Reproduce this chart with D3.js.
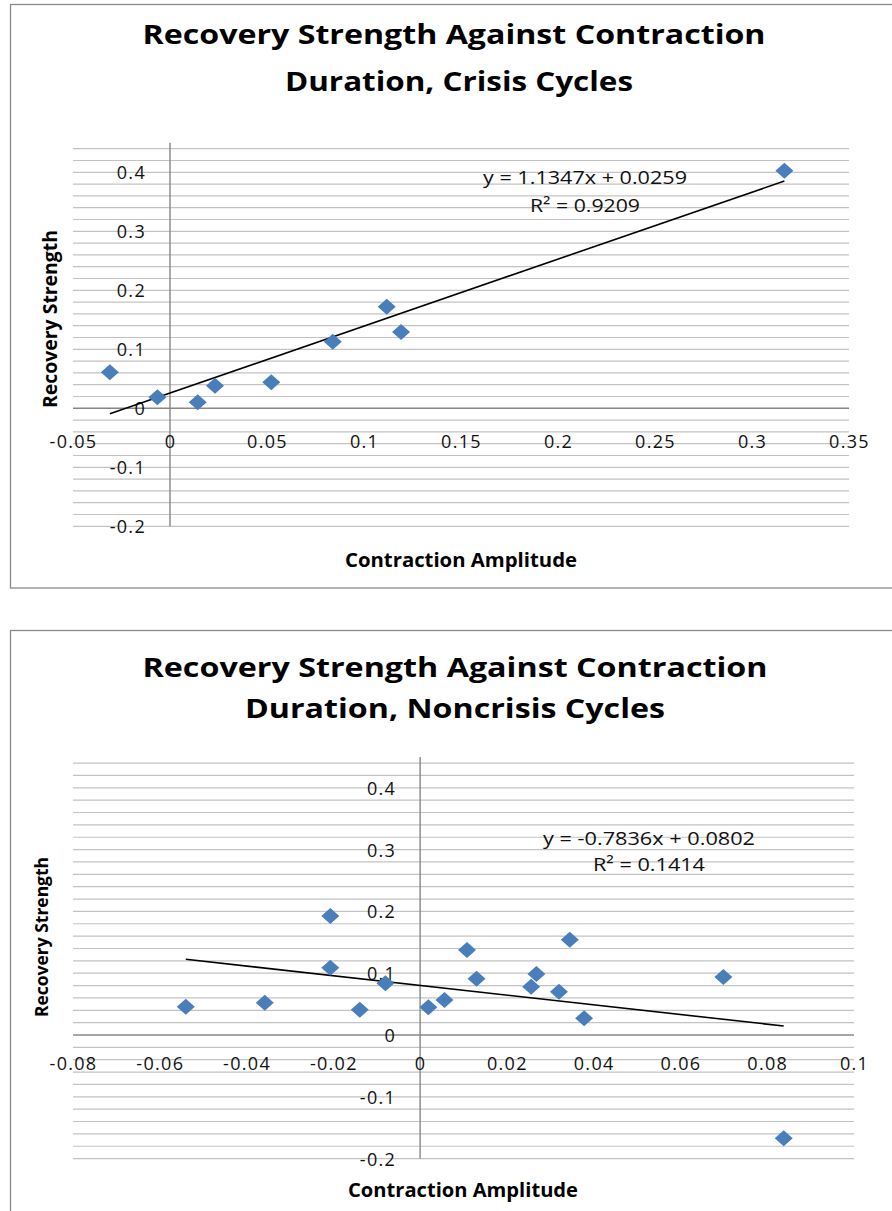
<!DOCTYPE html>
<html><head><meta charset="utf-8">
<script src="https://cdn.jsdelivr.net/npm/d3@7"></script>
<style>body{margin:0;background:#fff} svg{display:block}</style>
</head><body><svg id="c" width="892" height="1211"></svg>
<script>
// ---- data ----
const crisisX = [-0.031, -0.0065, 0.0143, 0.0232, 0.0522, 0.0839, 0.1117, 0.1191, 0.3167];
const crisisY = [0.061, 0.0186, 0.0102, 0.0383, 0.044, 0.1129, 0.1722, 0.1293, 0.4027];
const noncrisisX = [-0.054, -0.0358, -0.0207, -0.0207, -0.0139, -0.008, 0.0019, 0.0056, 0.0108, 0.013, 0.0256, 0.0268, 0.032, 0.0345, 0.0378, 0.0699, 0.0838];
const noncrisisY = [0.0458, 0.0523, 0.1926, 0.1089, 0.041, 0.0836, 0.0448, 0.0566, 0.1375, 0.0911, 0.0782, 0.0987, 0.0701, 0.1542, 0.027, 0.0939, -0.1672];
const titleLines = [["Recovery Strength Against Contraction", "Duration, Crisis Cycles"],
                    ["Recovery Strength Against Contraction", "Duration, Noncrisis Cycles"]];
const trendSlope = [1.1347, -0.7836];
const trendIntercept = [0.0259, 0.0802];
const rSquared = [0.9209, 0.1414];
const xTicksCrisis = [-0.05, 0, 0.05, 0.1, 0.15, 0.2, 0.25, 0.3, 0.35];
const xTicksNoncrisis = [-0.08, -0.06, -0.04, -0.02, 0, 0.02, 0.04, 0.06, 0.08, 0.1];
const yTicks = [-0.2, -0.1, 0, 0.1, 0.2, 0.3, 0.4];
const xAxisTitle = "Contraction Amplitude";
const yAxisTitle = "Recovery Strength";

// ---- layout (positions/styles only) ----
const layouts = [
  { box:[10.5,4.5,900,583.5], xDom:[-0.05,0.35], xRange:[73,849], yDom:[-0.2,0.45], yRange:[526.3,142.8],
    t1:{y:43.5,x:454,w:623}, t2:{y:90.7,x:459,w:348}, xTickPad:26.5,
    xt:{x:461,y:566.7,w:232}, yt:{x:57,y:319,w:178,fs:20},
    eq:{x:585,y1:184,y2:211.7,w1:204,w2:110} },
  { box:[10.5,630.5,900,700], xDom:[-0.08,0.1], xRange:[73,854], yDom:[-0.2,0.45], yRange:[1158.6,756.9],
    t1:{y:676.7,x:455,w:625}, t2:{y:718.3,x:455,w:420}, xTickPad:22,
    xt:{x:463,y:1196.7,w:230}, yt:{x:48,y:937,w:160,fs:18},
    eq:{x:649,y1:845,y2:870.7,w1:212,w2:112} }
];

const series = [
  {xs: crisisX, ys: crisisY, ticks: xTicksCrisis},
  {xs: noncrisisX, ys: noncrisisY, ticks: xTicksNoncrisis}
];

const svg = d3.select("#c");
svg.append("rect").attr("width",892).attr("height",1211).attr("fill","#fff");
const FONT = "'Open Sans', 'DejaVu Sans', sans-serif";
const fmt = d => d === 0 ? "0" : String(d);

const wideDiamond = { draw(ctx, size) { const w = 9, h = 8; ctx.moveTo(0,-h); ctx.lineTo(w,0); ctx.lineTo(0,h); ctx.lineTo(-w,0); ctx.closePath(); } };

series.forEach((s, i) => {
  const L = layouts[i];
  const g = svg.append("g");
  g.append("rect").attr("x",L.box[0]).attr("y",L.box[1]).attr("width",L.box[2]).attr("height",L.box[3])
    .attr("fill","#fff").attr("stroke","#8a8a8a").attr("stroke-width",1.3);

  const x = d3.scaleLinear().domain(L.xDom).range(L.xRange);
  const y = d3.scaleLinear().domain(L.yDom).range(L.yRange);

  // gridlines (major + minor every 0.02)
  const grid = d3.range(-10, 23).map(k => +(k*0.02).toFixed(2)).filter(v => v !== 0);
  g.append("g").selectAll("line").data(grid).join("line")
    .attr("x1", L.xRange[0]).attr("x2", L.xRange[1])
    .attr("y1", d => y(d)).attr("y2", d => y(d))
    .attr("stroke","#c3c3c3").attr("stroke-width",1.2);

  // axis lines
  g.append("line").attr("x1",L.xRange[0]).attr("x2",L.xRange[1]).attr("y1",y(0)).attr("y2",y(0))
    .attr("stroke","#878787").attr("stroke-width",1.4);
  g.append("line").attr("x1",x(0)).attr("x2",x(0)).attr("y1",y(L.yDom[0])).attr("y2",y(L.yDom[1]))
    .attr("stroke","#878787").attr("stroke-width",1.4);

  // tick labels via d3 axes
  const xa = g.append("g").attr("transform",`translate(0,${y(0)})`)
    .call(d3.axisBottom(x).tickValues(s.ticks).tickSize(0).tickPadding(L.xTickPad).tickFormat(fmt));
  const ya = g.append("g").attr("transform",`translate(${x(0)},0)`)
    .call(d3.axisLeft(y).tickValues(yTicks).tickSize(0).tickPadding(24).tickFormat(fmt));
  [xa, ya].forEach(a => {
    a.select(".domain").remove();
    a.selectAll("text").attr("font-family",FONT).attr("font-size",18).attr("fill","#111")
      .attr("letter-spacing","1.3px");
  });
  ya.selectAll("text").attr("dy","0.36em");

  // trendline
  const ext = d3.extent(s.xs);
  g.append("line")
    .attr("x1",x(ext[0])).attr("y1",y(trendSlope[i]*ext[0]+trendIntercept[i]))
    .attr("x2",x(ext[1])).attr("y2",y(trendSlope[i]*ext[1]+trendIntercept[i]))
    .attr("stroke","#000").attr("stroke-width",1.6);

  // points
  g.append("g").selectAll("path").data(s.xs.map((v,k)=>[v, s.ys[k]])).join("path")
    .attr("d", d3.symbol().type(wideDiamond).size(1))
    .attr("transform", d => `translate(${x(d[0])},${y(d[1])})`)
    .attr("fill","#4a7ebb");

  // titles
  const tt = [[titleLines[i][0], L.t1], [titleLines[i][1], L.t2]];
  tt.forEach(([txt, p]) => {
    g.append("text").attr("x",p.x).attr("y",p.y).attr("text-anchor","middle")
      .attr("font-family",FONT).attr("font-weight","bold").attr("font-size",26)
      .attr("textLength",p.w).attr("lengthAdjust","spacingAndGlyphs").attr("fill","#000").text(txt);
  });

  // axis titles
  g.append("text").attr("x",L.xt.x).attr("y",L.xt.y).attr("text-anchor","middle")
    .attr("font-family",FONT).attr("font-weight","bold").attr("font-size",20)
    .attr("textLength",L.xt.w).attr("lengthAdjust","spacingAndGlyphs").attr("fill","#000").text(xAxisTitle);
  g.append("text").attr("transform",`translate(${L.yt.x},${L.yt.y}) rotate(-90)`).attr("text-anchor","middle")
    .attr("font-family",FONT).attr("font-weight","bold").attr("font-size",L.yt.fs)
    .attr("textLength",L.yt.w).attr("lengthAdjust","spacingAndGlyphs").attr("fill","#000").text(yAxisTitle);

  // equation labels
  const eq1 = `y = ${trendSlope[i]}x + ${trendIntercept[i]}`;
  const eq2 = `R² = ${rSquared[i]}`;
  g.append("text").attr("x",L.eq.x).attr("y",L.eq.y1).attr("text-anchor","middle")
    .attr("font-family",FONT).attr("font-size",19).attr("fill","#111")
    .attr("textLength",L.eq.w1).attr("lengthAdjust","spacingAndGlyphs").text(eq1);
  g.append("text").attr("x",L.eq.x).attr("y",L.eq.y2).attr("text-anchor","middle")
    .attr("font-family",FONT).attr("font-size",19).attr("fill","#111")
    .attr("textLength",L.eq.w2).attr("lengthAdjust","spacingAndGlyphs").text(eq2);
});
</script></body></html>
